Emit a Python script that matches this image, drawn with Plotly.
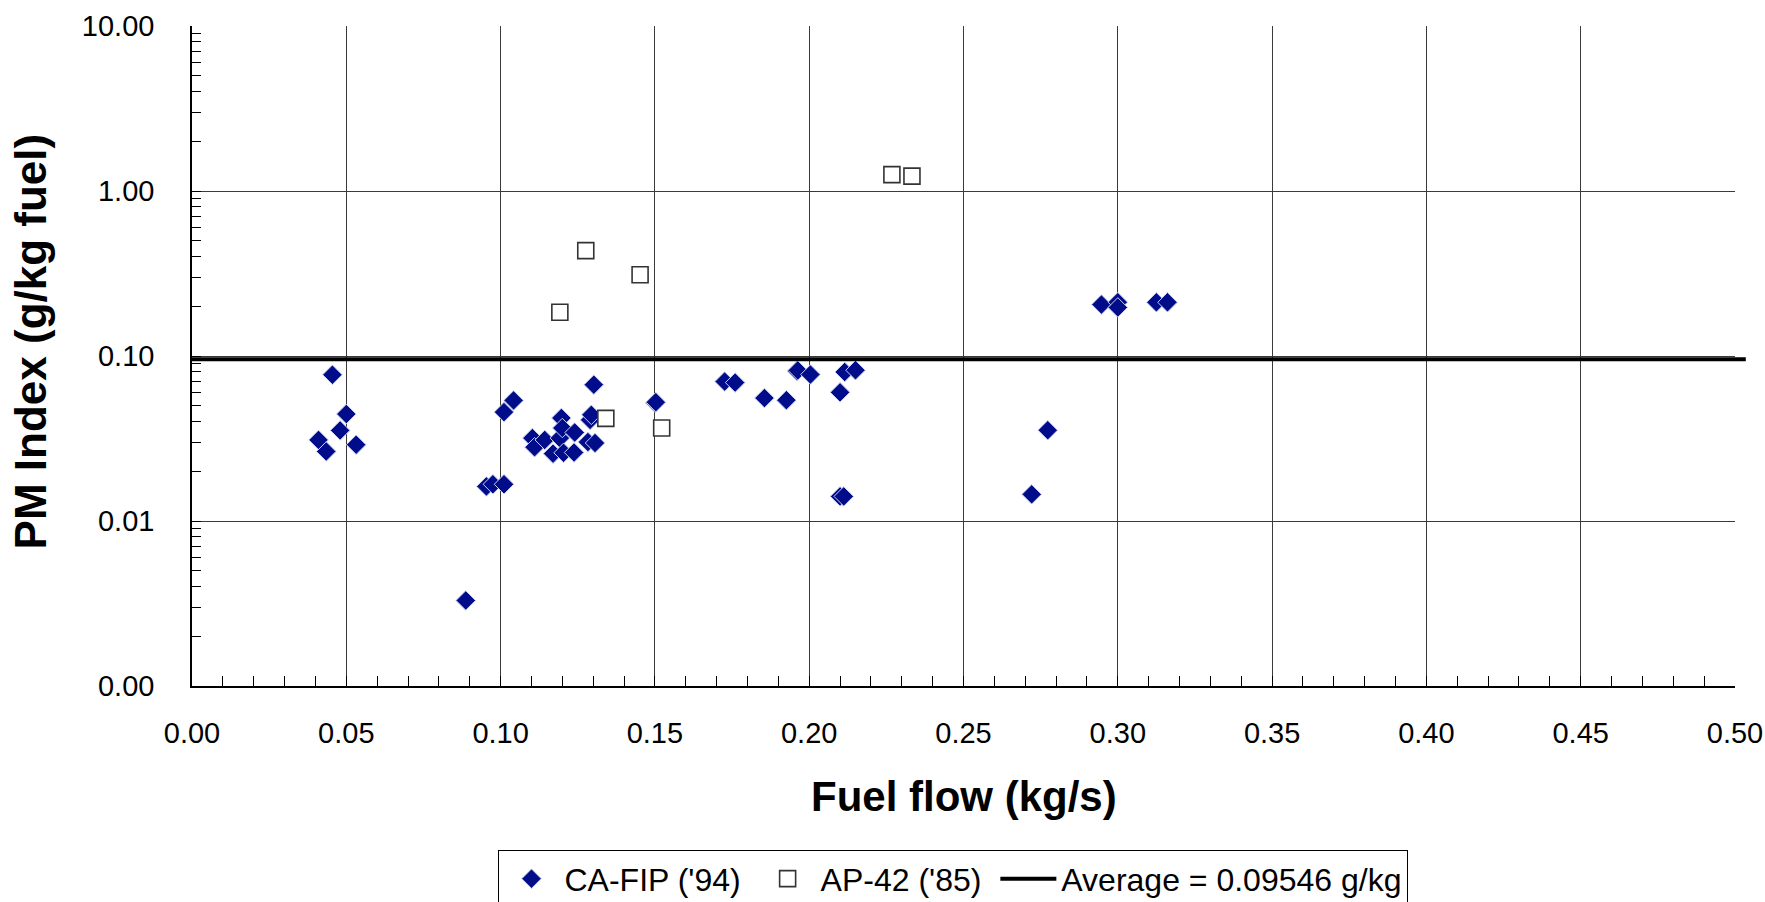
import plotly.graph_objects as go

# CA-FIP ('94) measurements: fuel flow (kg/s) vs PM index (g/kg fuel)
cafip_fuel_flow = [
    0.0410, 0.0435, 0.0455, 0.0480, 0.0500, 0.0532, 0.0887, 0.0954, 0.0975, 0.1011,
    0.1011, 0.1042, 0.1103, 0.1110, 0.1143, 0.1170, 0.1192, 0.1197, 0.1200, 0.1204,
    0.1238, 0.1240, 0.1283, 0.1290, 0.1294, 0.1302, 0.1306, 0.1501, 0.1503, 0.1726,
    0.1760, 0.1855, 0.1926, 0.1960, 0.1963, 0.2004, 0.2100, 0.2100, 0.2112, 0.2115,
    0.2150, 0.2721, 0.2773, 0.2947, 0.3000, 0.3000, 0.3125, 0.3161,
]
cafip_pm_index = [
    0.0310, 0.0264, 0.0770, 0.0354, 0.0445, 0.0290, 0.0033, 0.0162, 0.0167, 0.0167,
    0.0457, 0.0538, 0.0318, 0.0280, 0.0310, 0.0256, 0.0318, 0.0421, 0.0366, 0.0259,
    0.0260, 0.0344, 0.0301, 0.0410, 0.0440, 0.0670, 0.0297, 0.0520, 0.0525, 0.0700,
    0.0690, 0.0556, 0.0540, 0.0812, 0.0818, 0.0772, 0.0602, 0.0141, 0.0141, 0.0800,
    0.0820, 0.0145, 0.0355, 0.2050, 0.2120, 0.1970, 0.2115, 0.2115,
]

# AP-42 ('85) values
ap42_fuel_flow = [0.1192, 0.1276, 0.1341, 0.1452, 0.1522, 0.2268, 0.2333]
ap42_pm_index = [0.184, 0.435, 0.0419, 0.311, 0.0366, 1.257, 1.230]

# Average PM index across all data (g/kg)
average_pm = 0.09546

# Axis ticks
x_ticks = [0.00, 0.05, 0.10, 0.15, 0.20, 0.25, 0.30, 0.35, 0.40, 0.45, 0.50]
y_tickvals = [0.001, 0.01, 0.1, 1, 10]
y_ticktext = ["0.00", "0.01", "0.10", "1.00", "10.00"]

FONT = "Arial, Liberation Sans, sans-serif"
NAVY = "#000c8a"
GRID = "#3a3a3a"
NBSP = "\u00a0"

fig = go.Figure()

fig.add_trace(go.Scatter(
    x=cafip_fuel_flow, y=cafip_pm_index, mode="markers", name="CA-FIP ('94)" + NBSP,
    marker=dict(symbol="diamond", size=15, color=NAVY,
                line=dict(color="#c9cdef", width=1)),
))
fig.add_trace(go.Scatter(
    x=ap42_fuel_flow, y=ap42_pm_index, mode="markers", name="AP-42 ('85)" + NBSP,
    marker=dict(symbol="square", size=16, color="white",
                line=dict(color="#333333", width=1.6)),
))
# legend entry for the average line (the line itself is a shape below)
fig.add_trace(go.Scatter(
    x=[None], y=[None], mode="lines", name=f"Average = {average_pm:.5f} g/kg",
    line=dict(color="black", width=4),
))

fig.add_shape(type="line", xref="paper", yref="y", x0=0, x1=1.007,
              y0=average_pm, y1=average_pm, line=dict(color="black", width=4),
              layer="above")

fig.update_xaxes(
    range=[0, 0.5], tickvals=x_ticks, tickformat=".2f",
    showline=True, linecolor="black", linewidth=1.5,
    showgrid=True, gridcolor=GRID, gridwidth=1, zeroline=False,
    ticks="inside", ticklen=10, tickcolor="black",
    minor=dict(dtick=0.01, ticks="inside", ticklen=10, tickcolor="black", showgrid=False),
    ticklabelstandoff=20,
    tickfont=dict(family=FONT, size=29, color="black"),
)
fig.update_yaxes(
    type="log", range=[-3, 1], tickvals=y_tickvals, ticktext=y_ticktext,
    showline=True, linecolor="black", linewidth=1.5,
    showgrid=True, gridcolor=GRID, gridwidth=1, zeroline=False,
    ticks="inside", ticklen=9, tickcolor="black",
    minor=dict(dtick="D1", ticks="inside", ticklen=9, tickcolor="black", showgrid=False),
    ticklabelstandoff=30,
    tickfont=dict(family=FONT, size=29, color="black"),
)

fig.add_annotation(text="Fuel flow (kg/s)", xref="paper", yref="paper",
                   x=0.5, y=-0.168, xanchor="center", yanchor="middle", showarrow=False,
                   font=dict(family=FONT, size=42, color="black", weight="bold"))
fig.add_annotation(text="PM Index (g/kg fuel)", xref="paper", yref="paper",
                   x=-0.1044, y=0.522, xanchor="center", yanchor="middle", showarrow=False,
                   textangle=-90,
                   font=dict(family=FONT, size=44, color="black", weight="bold"))

fig.update_layout(
    width=1765, height=902,
    margin=dict(l=192, r=30, t=26, b=216, autoexpand=False),
    paper_bgcolor="white", plot_bgcolor="white",
    font=dict(family=FONT, color="black"),
    legend=dict(
        orientation="h", x=0.198, y=-0.249, xanchor="left", yanchor="top",
        bordercolor="black", borderwidth=1, bgcolor="white",
        font=dict(family=FONT, size=32, color="black"),
        itemwidth=56,
    ),
)

fig.write_html("out.html")
